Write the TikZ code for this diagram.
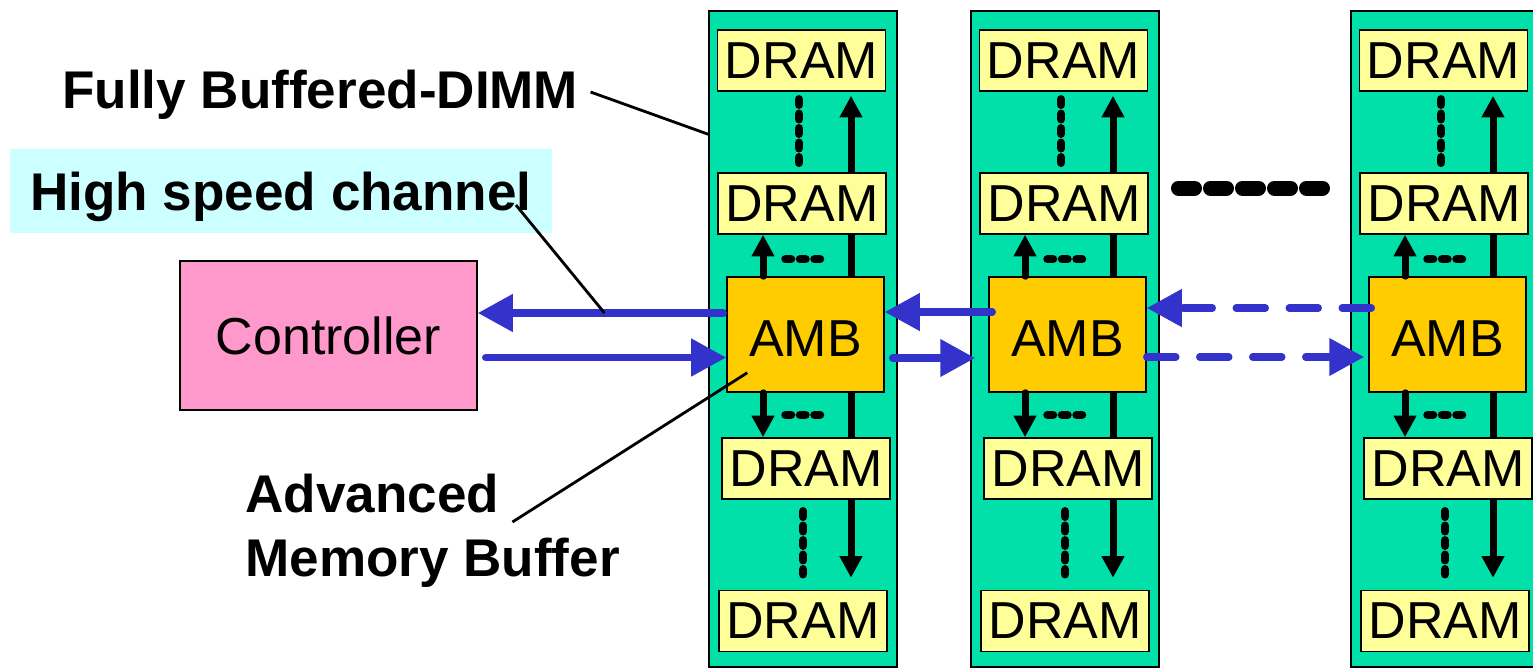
\documentclass[tikz,border=0pt]{standalone}
\usepackage{fontspec}
\setmainfont{Liberation Sans}
\usepackage{xcolor}
\usepackage{tikz}
\usetikzlibrary{arrows.meta}
\definecolor{dimmgreen}{RGB}{0,224,168}
\definecolor{dramyellow}{RGB}{255,255,153}
\definecolor{ambgold}{RGB}{255,204,0}
\definecolor{ctrlpink}{RGB}{255,153,204}
\definecolor{chanblue}{RGB}{51,51,204}
\definecolor{chancyan}{RGB}{204,255,255}
\pgfdeclarelayer{back}
\pgfdeclarelayer{mid}
\pgfsetlayers{back,mid,main}

\begin{document}
\begin{tikzpicture}[x=0.02cm, y=-0.02cm,
		dimm/.style={draw, line width=0.9pt, fill=dimmgreen, minimum width=3.76cm, minimum height=13.12cm, inner sep=0},
		dram/.style={draw, line width=0.9pt, fill=dramyellow, minimum width=3.36cm, minimum height=1.22cm, inner sep=0, font=\fontsize{29.6}{34}\selectfont},
		amb/.style={draw, line width=0.9pt, fill=ambgold, minimum width=3.14cm, minimum height=2.3cm, inner sep=0, text height=0.885cm, text depth=0cm, font=\fontsize{29.6}{34}\selectfont},
		ctrlbox/.style={draw, line width=0.9pt, fill=ctrlpink, minimum width=5.94cm, minimum height=2.98cm, inner sep=0, font=\fontsize{29.6}{34}\selectfont},
		lbl/.style={inner sep=0, font=\bfseries\fontsize{30.2}{36.4}\selectfont},
		hscbox/.style={lbl, fill=chancyan, inner xsep=0.4cm, inner ysep=0, text height=1.22cm, text depth=0.46cm},
		bus/.style={line width=0.14cm, line cap=round, -{Triangle[length=0.43cm, width=0.43cm]}},
		chipdots/.style={line width=0.17cm, line cap=round, dash pattern=on 0.11cm off 0.18cm},
		bigdots/.style={line width=0.3cm, line cap=round, dash pattern=on 0.32cm off 0.32cm},
		link/.style={draw=chanblue, line width=0.15cm, line cap=round, -{Triangle[length=0.7cm, width=0.72cm]}},
		linkdash/.style={link, dash pattern=on 0.58cm off 0.48cm},
		leader/.style={line width=1.6pt}]
	\useasboundingbox (0,0) rectangle (1533,670);
	\foreach \n/\dx in {1/0,2/262,3/642}{
		\begin{pgfonlayer}{back}
			\node[dimm] (dimm\n) at (803+\dx,339) {};
		\end{pgfonlayer}
		\node[dram] (dramA\n) at (801.5+\dx,60.5) {DRAM};
		\node[dram] (dramB\n) at (802+\dx,203.5) {DRAM};
		\node[amb] (amb\n) at (805.5+\dx,334.5) {AMB};
		\node[dram] (dramC\n) at (806+\dx,468.5) {DRAM};
		\node[dram] (dramD\n) at (803+\dx,621) {DRAM};
		\begin{pgfonlayer}{mid}
			\draw[bus, shorten >=0.08cm] ([xshift=0.91cm]amb\n.north) -- ([xshift=0.91cm]amb\n.north |- dramA\n.south);
			\draw[bus, shorten >=0.24cm] ([xshift=0.91cm]amb\n.south) -- ([xshift=0.91cm]amb\n.south |- dramD\n.north);
		\end{pgfonlayer}
		\draw[bus] ([xshift=-0.85cm]amb\n.north) -- ([xshift=-0.85cm]amb\n.north |- dramB\n.south);
		\draw[bus] ([xshift=-0.85cm]amb\n.south) -- ([xshift=-0.85cm]amb\n.south |- dramC\n.north);
		\draw[chipdots, shorten <=0.15cm, shorten >=0.15cm] ([xshift=-0.05cm]dramA\n.south) -- ([xshift=-0.05cm]dramA\n.south |- dramB\n.north);
		\draw[chipdots, shorten <=0.23cm, shorten >=0.31cm] ([xshift=-0.06cm]dramC\n.south) -- ([xshift=-0.06cm]dramC\n.south |- dramD\n.north);
		\draw[chipdots] ([xshift=-0.4cm,yshift=0.34cm]amb\n.north) -- ++(36,0);
		\draw[chipdots] ([xshift=-0.4cm,yshift=-0.44cm]amb\n.south) -- ++(36,0);
	}
	\draw[bigdots] (1178.5,188) -- (1322.5,188);
	\node[ctrlbox] (ctrl) at (328.5,335.5) {Controller};
	\draw[link, shorten <=0.06cm] ([yshift=0.43cm]amb1.west) -- coordinate[pos=0.49] (chn) ([yshift=0.43cm]amb1.west -| ctrl.east);
	\draw[link, shorten <=0.16cm] ([yshift=-0.46cm]amb1.west -| ctrl.east) -- ([yshift=-0.46cm]amb1.west);
	\draw[link, shorten <=-0.08cm] ([yshift=0.45cm]amb2.west) -- ([yshift=0.45cm]amb2.west -| amb1.east);
	\draw[link, shorten <=0.16cm, shorten >=0.26cm] ([yshift=-0.47cm]amb1.east) -- ([yshift=-0.47cm]amb1.east -| amb2.west);
	\draw[linkdash, shorten <=-0.06cm] ([yshift=0.53cm]amb3.west) -- ([yshift=0.53cm]amb3.west -| amb2.east);
	\draw[linkdash, shorten >=0.08cm] ([yshift=-0.45cm]amb2.east) -- ([yshift=-0.45cm]amb2.east -| amb3.west);
	\node[lbl, anchor=base west] (fbd) at (62,108) {Fully Buffered-DIMM};
	\draw[leader] ([xshift=0.24cm,yshift=0.32cm]fbd.base east) -- ([yshift=-2.48cm]dimm1.north west);
	\node[hscbox, anchor=base west] (hsc) at (10,210) {High speed channel};
	\draw[leader] ([xshift=-0.72cm,yshift=0.1cm]hsc.base east) -- (chn);
	\node[lbl, anchor=north west, align=left] (abl) at (245,474) {Advanced\\Memory Buffer};
	\draw[leader] ([xshift=5.35cm,yshift=-0.96cm]abl.north west) -- ([xshift=0.42cm,yshift=0.4cm]amb1.south west);
\end{tikzpicture}
\end{document}
